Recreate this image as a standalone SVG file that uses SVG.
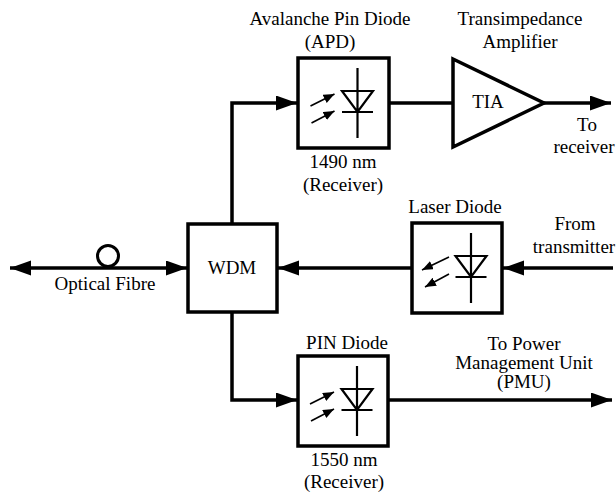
<svg xmlns="http://www.w3.org/2000/svg" xmlns:xlink="http://www.w3.org/1999/xlink" width="616" height="495" viewBox="0 0 616 495">
<style>
.t text{font-family:'Liberation Serif','DejaVu Serif',serif;font-size:19px;fill:#000;text-anchor:middle}
.box{fill:#fff;stroke:#000;stroke-width:3.5}
.wire{fill:none;stroke:#000;stroke-width:3.5}
.sym{fill:none;stroke:#000;stroke-width:2.2}
.ray{fill:none;stroke:#000;stroke-width:1.6}
</style>
<defs>
<marker id="ah" markerUnits="userSpaceOnUse" markerWidth="22" markerHeight="16" refX="21" refY="7.5" orient="auto-start-reverse" viewBox="0 0 22 16">
<path d="M0,0 L21,7.5 L0,15 z" fill="#000"/>
</marker>
<marker id="sa" markerUnits="userSpaceOnUse" markerWidth="12" markerHeight="10" refX="11" refY="4.5" orient="auto" viewBox="0 0 12 10">
<path d="M0,0 L11,4.5 L0,9 z" fill="#000"/>
</marker>
<g id="diode">
<path class="sym" d="M14,-35 V35 M-1.5,-12 H29.5 L14,9 Z M-1.5,9 H29.5"/>
</g>
<g id="rx">
<path class="ray" d="M-33,3 L-9,-9" marker-end="url(#sa)"/>
<path class="ray" d="M-32,20 L-9,8" marker-end="url(#sa)"/>
</g>
<g id="tx">
<path class="ray" d="M-8,-11 L-35,2" marker-end="url(#sa)"/>
<path class="ray" d="M-8,6 L-32,19" marker-end="url(#sa)"/>
</g>
</defs>

<g id="connectors">
<path class="wire" d="M10,268 H187" marker-start="url(#ah)" marker-end="url(#ah)"/>
<path class="wire" d="M232,224 V103 H297" marker-end="url(#ah)"/>
<path class="wire" d="M389,103 H453"/>
<path class="wire" d="M544,103 H611" marker-end="url(#ah)"/>
<path class="wire" d="M613,268 H503" marker-end="url(#ah)"/>
<path class="wire" d="M412,268 H278" marker-end="url(#ah)"/>
<path class="wire" d="M232,312 V400 H297" marker-end="url(#ah)"/>
<path class="wire" d="M388,400 H612" marker-end="url(#ah)"/>
</g>

<g class="t">
<g id="fibre">
<circle cx="108" cy="256" r="10.5" fill="#fff" stroke="#000" stroke-width="3"/>
<text x="105" y="290">Optical Fibre</text>
</g>

<g id="wdm">
<rect class="box" x="188" y="224" width="89" height="88"/>
<text x="232" y="274">WDM</text>
</g>

<g id="apd">
<rect class="box" x="298" y="58" width="91" height="90"/>
<use xlink:href="#diode" transform="translate(343.5,103)"/>
<use xlink:href="#rx" transform="translate(343.5,103)"/>
<text x="330" y="25">Avalanche Pin Diode</text>
<text x="330" y="48">(APD)</text>
<text x="343" y="168">1490 nm</text>
<text x="343" y="191">(Receiver)</text>
</g>

<g id="tia">
<path d="M453,59 L544,103 L453,147 Z" fill="#fff" stroke="#000" stroke-width="3.5" stroke-linejoin="miter"/>
<text x="488" y="108">TIA</text>
<text x="520" y="25">Transimpedance</text>
<text x="520" y="48">Amplifier</text>
</g>

<g id="to-receiver">
<text x="587" y="131">To</text>
<text x="584" y="153">receiver</text>
</g>

<g id="laser">
<rect class="box" x="412" y="223" width="90" height="90"/>
<use xlink:href="#diode" transform="translate(457,268)"/>
<use xlink:href="#tx" transform="translate(457,268)"/>
<text x="455" y="213">Laser Diode</text>
</g>

<g id="from-transmitter">
<text x="575" y="230">From</text>
<text x="574" y="253">transmitter</text>
</g>

<g id="pin">
<rect class="box" x="298" y="356" width="90" height="90"/>
<use xlink:href="#diode" transform="translate(343,401)"/>
<use xlink:href="#rx" transform="translate(343,401)"/>
<text x="347" y="349">PIN Diode</text>
<text x="344" y="466">1550 nm</text>
<text x="344" y="488">(Receiver)</text>
</g>

<g id="pmu">
<text x="524" y="350">To Power</text>
<text x="524" y="369">Management Unit</text>
<text x="524" y="388">(PMU)</text>
</g>
</g>
</svg>
